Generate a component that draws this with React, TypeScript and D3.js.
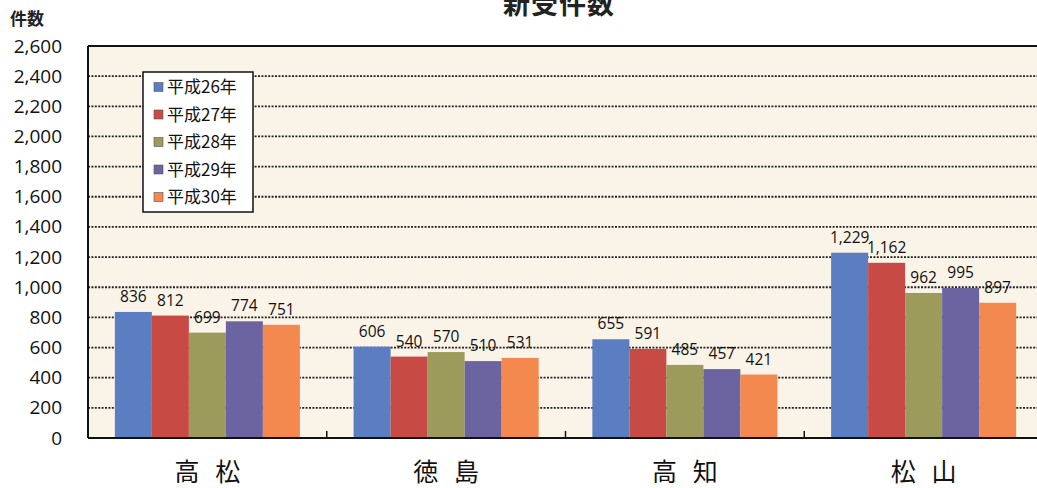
import React from "react";
import * as d3 from "d3";

const categories = ["高 松", "徳 島", "高 知", "松 山"];
const seriesNames = ["平成26年", "平成27年", "平成28年", "平成29年", "平成30年"];
const h26 = [836, 606, 655, 1229];
const h27 = [812, 540, 591, 1162];
const h28 = [699, 570, 485, 962];
const h29 = [774, 510, 457, 995];
const h30 = [751, 531, 421, 897];
const seriesValues = [h26, h27, h28, h29, h30];
const colors = ["#5b7ec3", "#c84a44", "#9c9b5b", "#6b64a1", "#f4894f"];
const yTicks = [0, 200, 400, 600, 800, 1000, 1200, 1400, 1600, 1800, 2000, 2200, 2400, 2600];

const W = 1037;
const H = 488;
const left = 88;
const right = 1043;
const top = 46;
const bottom = 438;

export default function App() {
  const y = d3.scaleLinear().domain([0, 2600]).range([bottom, top]);
  const x0 = d3
    .scaleBand<string>()
    .domain(categories)
    .range([left, right])
    .paddingInner(0.225)
    .paddingOuter(0.1125);
  const x1 = d3
    .scaleBand<number>()
    .domain(d3.range(seriesNames.length))
    .range([0, x0.bandwidth()])
    .padding(0);
  const step = x0.step();
  const fmt = d3.format(",");

  return (
    <svg
      width={W}
      height={H}
      style={{ position: "absolute", left: 0, top: 0, background: "#fff" }}
      fontFamily="'Open Sans', 'Noto Sans', sans-serif"
    >
      <text
        x={559}
        y={14}
        textAnchor="middle"
        fontFamily="'Noto Sans CJK JP', sans-serif"
        fontWeight="bold"
        fontSize={27}
        letterSpacing={1}
        fill="#222"
      >
        新受件数
      </text>
      <text
        x={10}
        y={25}
        fontFamily="'Noto Sans CJK JP', sans-serif"
        fontWeight="bold"
        fontSize={17}
        fill="#222"
      >
        件数
      </text>
      <rect x={left} y={top} width={right - left} height={bottom - top} fill="#faf3e8" />
      {yTicks
        .filter((t) => t > 0 && t < 2600)
        .map((t) => (
          <line
            key={t}
            x1={left}
            x2={right}
            y1={y(t)}
            y2={y(t)}
            stroke="#222"
            strokeWidth={1.8}
            strokeDasharray="2 1.4"
          />
        ))}
      {yTicks.map((t) => (
        <text key={t} x={62} y={y(t) + 6.5} textAnchor="end" fontSize={19} fill="#111">
          {fmt(t)}
        </text>
      ))}
      {categories.map((c, ci) => (
        <g key={c} transform={`translate(${x0(c)},0)`}>
          {seriesValues.map((vals, si) => (
            <rect
              key={si}
              x={x1(si)}
              y={y(vals[ci])}
              width={x1.bandwidth()}
              height={bottom - y(vals[ci])}
              fill={colors[si]}
            />
          ))}
          {seriesValues.map((vals, si) => (
            <text
              key={"l" + si}
              x={(x1(si) as number) + x1.bandwidth() / 2}
              y={y(vals[ci]) - 10}
              textAnchor="middle"
              fontSize={15.5}
              fontWeight={500}
              fill="#111"
            >
              {fmt(vals[ci])}
            </text>
          ))}
        </g>
      ))}
      {categories.map((c) => (
        <text
          key={"c" + c}
          x={(x0(c) as number) + x0.bandwidth() / 2 + 2.5}
          y={481}
          textAnchor="middle"
          fontFamily="'Noto Sans CJK JP', sans-serif"
          fontSize={25}
          letterSpacing={5}
          fill="#111"
        >
          {c}
        </text>
      ))}
      {categories.slice(1).map((c, i) => (
        <line
          key={"t" + i}
          x1={left + step * (i + 1)}
          x2={left + step * (i + 1)}
          y1={bottom}
          y2={bottom - 7}
          stroke="#111"
          strokeWidth={1.5}
        />
      ))}
      <line x1={left} x2={right} y1={top} y2={top} stroke="#111" strokeWidth={2} />
      <line x1={left} x2={left} y1={top} y2={bottom} stroke="#111" strokeWidth={2} />
      <line x1={left} x2={right} y1={bottom} y2={bottom} stroke="#111" strokeWidth={2} />
      <g>
        <rect x={143} y={72} width={110} height={140} fill="#fff" stroke="#111" strokeWidth={1.5} />
        {seriesNames.map((s, i) => (
          <g key={s} transform={`translate(0,${87 + i * 27.5})`}>
            <rect x={154} y={-4.5} width={9} height={9} fill={colors[i]} stroke="#555" strokeWidth={0.6} />
            <text
              x={167}
              y={6}
              fontFamily="'Noto Sans CJK JP', sans-serif"
              fontSize={17}
              fill="#111"
            >
              {s}
            </text>
          </g>
        ))}
      </g>
    </svg>
  );
}
